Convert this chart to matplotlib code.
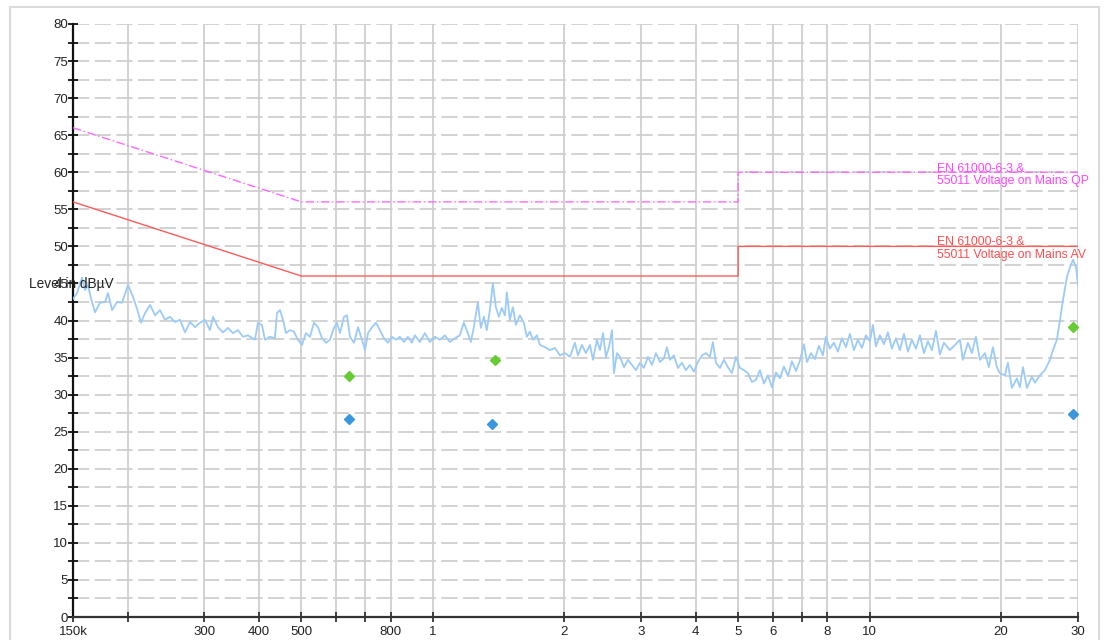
import matplotlib
matplotlib.use("Agg")
import matplotlib.pyplot as plt
from matplotlib.patches import Rectangle
from matplotlib.ticker import FixedLocator, MultipleLocator

plt.rcParams['font.family'] = ['Liberation Sans', 'DejaVu Sans']

# measured trace (frequency in MHz, level in dBuV)
freq_mhz = [
    0.150, 0.1532, 0.1573, 0.1598, 0.1623, 0.1649, 0.1684, 0.1730, 0.1776, 0.1804,
    0.1843, 0.1892, 0.1942, 0.2005, 0.2058, 0.2102, 0.2147, 0.2193, 0.2252, 0.2312,
    0.2373, 0.2436, 0.2501, 0.2568, 0.2637, 0.2707, 0.2780, 0.2854, 0.2930, 0.3008,
    0.3088, 0.3138, 0.3222, 0.3308, 0.3396, 0.3486, 0.3580, 0.3675, 0.3773, 0.3914,
    0.3977, 0.4062, 0.4126, 0.4236, 0.4350, 0.4396, 0.4466, 0.4538, 0.4610, 0.4709,
    0.4808, 0.4911, 0.5016, 0.5122, 0.5232, 0.5343, 0.5457, 0.5573, 0.5692, 0.5813,
    0.5937, 0.6032, 0.6128, 0.6258, 0.6358, 0.6461, 0.6599, 0.6739, 0.6883, 0.6992,
    0.7104, 0.7256, 0.7408, 0.7566, 0.7726, 0.7891, 0.8059, 0.8231, 0.8406, 0.8586,
    0.8768, 0.8952, 0.9095, 0.9338, 0.9587, 0.9843, 1.0106, 1.0376, 1.0653, 1.0938,
    1.1230, 1.1528, 1.1774, 1.2025, 1.2217, 1.2412, 1.2677, 1.2878, 1.3084, 1.3292,
    1.3506, 1.3721, 1.3941, 1.4163, 1.4388, 1.4618, 1.4772, 1.5008, 1.5248, 1.5491,
    1.5820, 1.6158, 1.6415, 1.6676, 1.6947, 1.7310, 1.7586, 1.8056, 1.8538, 1.9032,
    1.9542, 2.0063, 2.0598, 2.1150, 2.1486, 2.1944, 2.2412, 2.2895, 2.3258, 2.3755,
    2.4133, 2.4518, 2.4908, 2.5305, 2.5708, 2.5980, 2.6395, 2.6815, 2.7387, 2.7969,
    2.8563, 2.9172, 2.9796, 3.0429, 3.1080, 3.1740, 3.2418, 3.3108, 3.3813, 3.4348,
    3.4896, 3.5636, 3.6400, 3.7176, 3.7964, 3.8776, 3.9600, 4.0444, 4.1308, 4.2188,
    4.3088, 4.3772, 4.4480, 4.5425, 4.6395, 4.7385, 4.8390, 4.9425, 5.0475, 5.1555,
    5.2650, 5.3775, 5.4920, 5.6088, 5.7282, 5.8500, 5.9748, 6.1020, 6.2322, 6.3648,
    6.5023, 6.6402, 6.7823, 6.9265, 7.0742, 7.1869, 7.3402, 7.4963, 7.6536, 7.8168,
    7.9408, 8.1104, 8.2832, 8.4600, 8.6400, 8.826, 9.014, 9.206, 9.402, 9.602,
    9.807, 10.016, 10.176, 10.338, 10.558, 10.783, 11.013, 11.247, 11.487, 11.731,
    11.982, 12.239, 12.500, 12.765, 13.038, 13.316, 13.599, 13.890, 14.186, 14.487,
    14.796, 15.27, 15.68, 16.10, 16.35, 16.79, 17.15, 17.51, 17.88, 18.37,
    18.75, 19.15, 19.56, 19.87, 20.40, 20.73, 21.17, 21.74, 22.08, 22.44,
    22.92, 23.53, 23.90, 24.54, 25.20, 25.87, 26.29, 26.84, 27.29, 27.72,
    28.31, 28.76, 29.22, 29.69, 30.0,
]
level_dbuv = [
    42.9, 43.7, 45.8, 44.1, 44.8, 43.0, 41.1, 42.4, 42.5, 43.7,
    41.4, 42.5, 42.4, 44.8, 43.2, 41.6, 39.7, 41.0, 42.1, 40.7,
    41.4, 40.1, 40.5, 39.8, 40.1, 38.4, 39.8, 39.1, 39.7, 40.1,
    38.7, 40.5, 39.1, 38.4, 39.0, 38.3, 38.7, 37.8, 38.0, 37.4,
    39.7, 39.4, 37.4, 37.8, 37.6, 41.0, 41.4, 40.1, 38.3, 38.7,
    38.5, 37.4, 36.7, 38.3, 37.8, 39.7, 39.1, 37.6, 37.0, 37.4,
    39.0, 39.7, 38.3, 40.5, 40.7, 37.8, 37.0, 39.1, 37.4, 36.0,
    38.3, 39.1, 39.7, 38.7, 37.6, 37.0, 37.8, 37.4, 37.8, 37.1,
    37.8, 37.0, 38.0, 37.1, 38.3, 37.1, 37.8, 37.4, 38.0, 37.1,
    37.6, 38.0, 39.7, 38.3, 37.1, 39.1, 42.5, 39.0, 40.5, 38.7,
    41.4, 45.0, 41.8, 40.5, 41.7, 40.7, 43.8, 40.1, 41.8, 39.4,
    40.7, 39.7, 37.8, 38.5, 37.4, 38.0, 36.7, 36.4, 36.0, 36.3,
    35.3, 35.6, 35.1, 37.0, 35.3, 36.7, 35.6, 36.7, 34.7, 37.4,
    36.0, 38.3, 35.1, 36.4, 38.7, 32.9, 35.6, 35.1, 33.7, 34.7,
    34.0, 33.3, 34.3, 33.6, 35.1, 34.0, 35.6, 34.4, 34.9, 36.4,
    34.7, 35.3, 33.6, 34.3, 33.3, 34.0, 33.1, 34.4, 35.3, 35.6,
    35.1, 37.1, 34.3, 33.6, 34.7, 33.7, 32.9, 35.1, 33.6, 33.3,
    32.9, 31.7, 32.0, 33.3, 31.5, 32.6, 31.0, 33.0, 32.2, 33.8,
    32.5, 34.5, 33.2, 34.6, 36.8, 34.4, 35.6, 34.8, 36.6, 35.3,
    37.8, 36.2, 37.0, 35.8, 37.6, 36.4, 38.2, 36.0, 37.4, 36.3,
    38.0, 37.2, 39.4, 36.5, 38.0, 36.8, 38.4, 36.2, 37.6, 36.0,
    38.2, 35.8, 37.4, 36.2, 38.0, 35.6, 37.2, 36.0, 38.6, 35.4,
    37.0, 36.0, 36.7, 37.4, 34.7, 37.0, 35.6, 37.8, 34.7, 35.6,
    33.7, 36.4, 33.7, 32.9, 32.6, 34.3, 30.9, 32.2, 31.0, 33.7,
    30.9, 32.4, 31.6, 32.6, 33.3, 34.7, 36.0, 37.4, 40.1, 42.8,
    45.9, 47.2, 48.2, 47.2, 44.8,
]

# limit lines
qp_limit_freq = [0.15, 0.5, 5, 5, 30]
qp_limit_level = [66, 56, 56, 60, 60]
av_limit_freq = [0.15, 0.5, 5, 5, 30]
av_limit_level = [56, 46, 46, 50, 50]

# final measurement points
qp_freq = [0.6425, 1.387, 29.27]
qp_level = [32.5, 34.7, 39.1]
av_freq = [0.642, 1.365, 29.27]
av_level = [26.7, 26.0, 27.4]

x_ticks = [0.15, 0.2, 0.3, 0.4, 0.5, 0.6, 0.7, 0.8, 1, 2, 3, 4, 5, 6, 7, 8, 10, 20, 30]
x_labels = ['150k', '', '300', '400', '500', '', '', '800', '1', '2', '3', '4', '5', '6', '', '8', '10', '20', '30']

fig = plt.figure(figsize=(11.07, 6.40), dpi=100)
ax = fig.add_axes([73 / 1107, 23 / 640, 1005 / 1107, 593 / 640])

ax.set_xscale('log')
ax.set_xlim(0.15, 30)
ax.set_ylim(0, 80)

ax.xaxis.set_major_locator(FixedLocator(x_ticks))
ax.xaxis.set_minor_locator(FixedLocator([]))
ax.set_xticklabels(x_labels)
ax.yaxis.set_major_locator(MultipleLocator(5))
ax.yaxis.set_minor_locator(MultipleLocator(2.5))

ax.grid(True, axis='x', which='major', color='#cfcfcf', lw=1.3, ls='-')
ax.grid(True, axis='y', which='both', color='#cfcfcf', lw=1.3, ls=(0, (9, 3)))
ax.set_axisbelow(True)

for side in ['top', 'right']:
    ax.spines[side].set_visible(False)
ax.spines['left'].set_color('#111111')
ax.spines['left'].set_linewidth(1.6)
ax.spines['bottom'].set_color('#333333')
ax.spines['bottom'].set_linewidth(1.6)

ax.tick_params(axis='y', which='both', direction='inout', length=7, width=1.3,
               color='#111111', labelsize=9.5, pad=0, labelcolor='#222222')
ax.tick_params(axis='x', which='major', direction='inout', length=7, width=1.3,
               color='#333333', labelsize=9.5, pad=3, labelcolor='#222222')

ax.plot(freq_mhz, level_dbuv, color='#9ccbf7', lw=1.3, zorder=3)
ax.plot(qp_limit_freq, qp_limit_level, color='#ff66ff', lw=1.0, ls=(0, (6, 2, 1, 2)), zorder=4)
ax.plot(av_limit_freq, av_limit_level, color='#ff5a5a', lw=1.0, zorder=4)

ax.plot(qp_freq, qp_level, ls='none', marker='D', ms=5, color='#66cc33', zorder=5)
ax.plot(av_freq, av_level, ls='none', marker='D', ms=5, color='#3a96dd', zorder=5)

ax.text(14.3, 60.1, 'EN 61000-6-3 &', color='#ff44ff', fontsize=8.8, va='baseline', ha='left')
ax.text(14.3, 58.35, '55011 Voltage on Mains QP', color='#ff44ff', fontsize=8.8, va='baseline', ha='left')
ax.text(14.3, 50.25, 'EN 61000-6-3 &', color='#ff4d4d', fontsize=8.8, va='baseline', ha='left')
ax.text(14.3, 48.4, '55011 Voltage on Mains AV', color='#ff4d4d', fontsize=8.8, va='baseline', ha='left')

# axis title sits over the 45 tick label, as in the original
fig.text(29 / 1107, 1 - 284 / 640, 'Level in dB\u00b5V', fontsize=9.8, color='#222222',
         ha='left', va='center')

fig.add_artist(Rectangle((10 / 1107, -0.05), 1089 / 1107, 1.05 - 7 / 640,
                         transform=fig.transFigure, fill=False, ec='#dadada', lw=1.5))

fig.savefig('out.png', dpi=100)
